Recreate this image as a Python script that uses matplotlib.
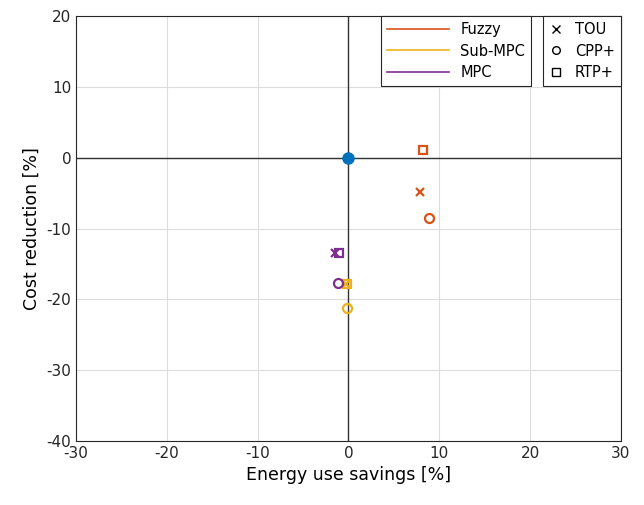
import matplotlib.pyplot as plt
from matplotlib.lines import Line2D

plt.rcParams['axes.unicode_minus'] = False

# Data
controllers = ['Fuzzy', 'Sub-MPC', 'MPC']
tariffs = ['TOU', 'CPP+', 'RTP+']
colors = ['#D95319', '#EDB120', '#7E2F8E']
markers = ['x', 'o', 's']

# energy savings [%] per controller, order TOU, CPP+, RTP+
savings = {
    'Fuzzy': [7.9, 8.9, 8.2],
    'Sub-MPC': [-0.3, -0.1, -0.2],
    'MPC': [-1.5, -1.2, -1.0],
}
# cost reduction [%]
cost = {
    'Fuzzy': [-4.9, -8.5, 1.1],
    'Sub-MPC': [-17.8, -21.2, -17.8],
    'MPC': [-13.4, -17.7, -13.4],
}

fig = plt.figure(figsize=(6.44, 5.05), dpi=100)
ax = fig.add_axes([0.118, 0.127, 0.846, 0.841])

ax.axhline(0, color='#333333', lw=1.0, zorder=1)
ax.axvline(0, color='#333333', lw=1.0, zorder=1)

for c, col in zip(controllers, colors):
    for i, m in enumerate(markers):
        ax.plot(savings[c][i], cost[c][i], marker=m, color=col, ls='none',
                ms=6.5 if m == 'o' else 5.5, mfc='none', mew=1.6, zorder=3)

ax.plot(0, 0, 'o', color='#0072BD', ms=8, zorder=4)

ax.set_xlim(-30, 30)
ax.set_ylim(-40, 20)
ax.set_xticks(range(-30, 31, 10))
ax.set_yticks(range(-40, 21, 10))
ax.grid(True, color='#dddddd', lw=0.8)
ax.set_axisbelow(True)
ax.tick_params(labelsize=11, direction='in', length=0, colors='#262626')
for s in ax.spines.values():
    s.set_color('#262626')
ax.set_xlabel('Energy use savings [%]', fontsize=12.5)
ax.set_ylabel('Cost reduction [%]', fontsize=12.5)

h1 = [Line2D([], [], color=col, lw=1.2) for col in colors]
leg1 = ax.legend(h1, controllers, loc='upper right', bbox_to_anchor=(0.835, 1.0),
                 fontsize=10.5, fancybox=False, edgecolor='#262626', framealpha=1,
                 handlelength=4.2, borderaxespad=0, labelspacing=0.45)
leg1.get_frame().set_linewidth(0.8)
ax.add_artist(leg1)

h2 = [Line2D([], [], color='k', marker=m, ls='none', mfc='none', ms=5.5) for m in markers]
leg2 = ax.legend(h2, tariffs, loc='upper right', bbox_to_anchor=(1.0, 1.0),
                 fontsize=10.5, fancybox=False, edgecolor='#262626', framealpha=1,
                 handlelength=1.0, borderaxespad=0, labelspacing=0.45)
leg2.get_frame().set_linewidth(0.8)

fig.savefig('out.png', dpi=100)
